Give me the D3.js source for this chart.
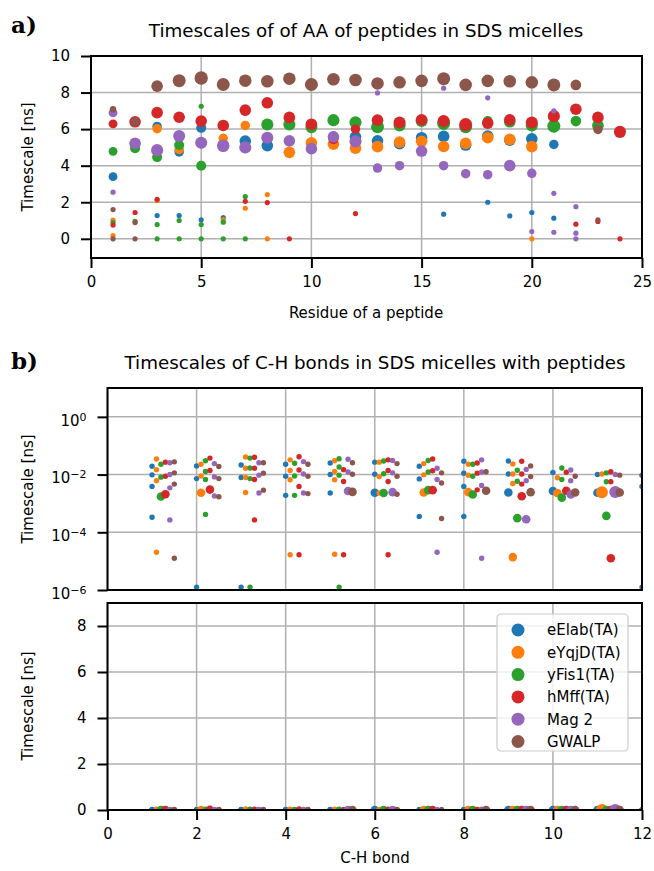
<!DOCTYPE html>
<html>
<head>
<meta charset="utf-8">
<script src="https://cdn.jsdelivr.net/npm/d3@7"></script>
<style>
  body { margin: 0; background: #fff; }
  text { font-family: "DejaVu Sans", sans-serif; fill: #000; }
</style>
</head>
<body>
<svg id="fig" width="654" height="871"></svg>
<script>
const peptides = ["eElab(TA)", "eYqjD(TA)", "yFis1(TA)", "hMff(TA)", "Mag 2", "GWALP"];
const colors = ["#1f77b4", "#ff7f0e", "#2ca02c", "#d62728", "#9467bd", "#8c564b"];

// panel a: [residue, timescale (ns), weight]
const aaElab = [[1,3.4,.35],[3,6.15,.4],[3,1.27,.12],[4,4.75,.4],[4,1.27,.12],[5,6.07,.45],[5,1.04,.12],[6,5.2,.4],[6,1.16,.12],[7,5.35,.6],[8,5.1,.6],[11,5.6,.45],[12,5.58,.6],[13,5.36,.6],[14,5.2,.6],[15,5.53,.6],[16,5.6,.6],[16,1.35,.12],[17,5.13,.6],[18,5.62,.6],[18,2.0,.12],[19,5.4,.6],[19,1.25,.12],[20,5.47,.6],[20,1.44,.12],[21,5.16,.4],[21,1.13,.12]];
const aaYqjD = [[1,1.02,.12],[1,0.18,.12],[3,6.02,.4],[3,2.1,.12],[4,4.89,.4],[6,5.5,.4],[6,1.05,.12],[7,6.2,.4],[7,1.67,.12],[8,2.42,.12],[8,0,.12],[9,4.73,.6],[10,5.25,.6],[11,5.18,.6],[12,4.96,.6],[13,5.04,.6],[14,5.29,.6],[15,5.33,.6],[16,5.05,.6],[17,5.22,.6],[18,5.53,.6],[19,5.44,.6],[20,5.04,.6],[20,0,.12]];
const aaFis1 = [[1,4.78,.35],[1,0.89,.12],[2,4.95,.45],[2,0.95,.12],[3,4.47,.45],[3,0.78,.12],[3,0,.12],[4,5.13,.45],[4,1.0,.12],[4,0,.12],[5,7.25,.12],[5,4.0,.45],[5,0.78,.12],[5,0,.12],[6,0.91,.12],[6,0,.12],[7,7.0,.4],[7,2.31,.12],[7,0,.12],[8,6.25,.65],[9,6.25,.65],[10,6.11,.65],[11,6.49,.65],[12,6.38,.65],[13,6.13,.75],[14,6.2,.65],[15,6.45,.65],[16,6.31,.75],[17,6.13,.75],[18,6.44,.45],[19,6.4,.6],[20,6.2,.65],[21,6.16,.75],[22,6.44,.5],[23,6.2,.6]];
const aaMff = [[1,6.29,.35],[1,0.75,.12],[2,6.4,.6],[2,1.44,.12],[3,6.9,.6],[3,2.16,.12],[4,6.65,.6],[5,6.44,.6],[6,6.2,.6],[7,7.04,.6],[7,2.05,.12],[8,7.44,.6],[8,1.98,.12],[9,6.64,.6],[9,0,.12],[10,6.27,.6],[11,5.45,.45],[12,6.0,.4],[12,1.38,.12],[13,6.49,.6],[14,6.36,.65],[15,6.51,.6],[16,6.44,.65],[17,6.25,.75],[18,6.33,.6],[19,6.51,.6],[20,6.36,.65],[21,6.71,.65],[22,7.09,.6],[22,0.8,.12],[23,6.64,.6],[23,0.95,.12],[24,5.85,.65],[24,0,.12]];
const aaMag2 = [[1,6.89,.35],[1,2.55,.12],[2,5.22,.6],[3,4.85,.65],[4,5.62,.65],[5,5.25,.65],[6,5.09,.7],[7,5.0,.65],[8,5.53,.65],[9,5.36,.6],[10,4.93,.6],[11,5.58,.6],[12,5.33,.65],[13,7.98,.12],[13,3.87,.4],[14,4.0,.4],[15,4.8,.6],[16,8.24,.12],[16,4.0,.4],[17,3.56,.4],[18,7.71,.12],[18,3.51,.4],[19,4.0,.6],[20,3.58,.4],[20,0.4,.12],[21,7.0,.12],[21,2.49,.12],[21,0.36,.12],[22,1.76,.12],[22,0.31,.12],[22,0,.12]];
const aaGWALP = [[1,7.09,.18],[1,1.6,.12],[1,0,.12],[2,6.4,.35],[2,0.89,.12],[2,0,.12],[3,8.35,.6],[4,8.65,.75],[5,8.8,.8],[6,8.44,.75],[7,8.65,.7],[8,8.62,.7],[9,8.76,.7],[10,8.44,.75],[11,8.73,.7],[12,8.69,.7],[13,8.5,.7],[14,8.56,.7],[15,8.64,.7],[16,8.76,.75],[17,8.42,.7],[18,8.64,.7],[19,8.62,.7],[20,8.56,.7],[21,8.42,.75],[22,8.42,.5],[23,5.98,.4],[23,1.04,.12]];

// panel b: [C-H bond, log10 timescale (ns), weight]
const chElab = [[1,-1.71,.13],[1,-2.01,.13],[1,-2.41,.13],[1,-3.48,.13],[2,-1.70,.13],[2,-2.14,.13],[2,-5.9,.13],[3,-1.67,.13],[3,-2.10,.13],[3,-5.9,.13],[4,-1.64,.13],[4,-2.06,.13],[4,-2.72,.13],[5,-1.60,.13],[5,-2.0,.13],[5,-2.64,.13],[6,-1.57,.13],[6,-1.99,.13],[6,-2.63,.33],[7,-1.71,.13],[7,-2.15,.13],[7,-3.45,.13],[8,-1.54,.13],[8,-1.95,.13],[8,-2.41,.13],[8,-3.45,.13],[9,-1.53,.13],[9,-1.98,.13],[9,-2.62,.33],[10,-1.93,.13],[10,-2.57,.33],[11,-2.0,.13],[11,-2.63,.33],[12,-2.02,.13],[12,-2.41,.13],[12,-5.9,.13]];
const chYqjD = [[1,-1.46,.13],[1,-1.83,.13],[1,-2.21,.13],[1,-4.69,.13],[2,-1.64,.13],[2,-2.05,.13],[2,-2.63,.33],[3,-1.39,.13],[3,-1.78,.13],[3,-2.1,.13],[3,-2.62,.13],[4,-1.49,.13],[4,-1.86,.13],[4,-2.18,.13],[4,-4.78,.13],[5,-1.52,.13],[5,-1.89,.13],[5,-2.18,.13],[5,-4.76,.13],[6,-1.57,.13],[6,-2.07,.13],[6,-2.64,.13],[7,-1.62,.13],[7,-2.01,.13],[7,-2.62,.33],[8,-1.64,.13],[8,-2.02,.13],[8,-2.61,.33],[9,-1.63,.13],[9,-1.98,.13],[9,-2.31,.13],[9,-4.86,.33],[10,-2.11,.13],[10,-2.64,.33],[11,-1.98,.13],[11,-2.61,.64]];
const chFis1 = [[1,-1.64,.13],[1,-2.09,.13],[1,-2.76,.33],[2,-1.52,.13],[2,-1.89,.13],[2,-2.17,.13],[2,-3.38,.13],[3,-1.43,.13],[3,-1.77,.13],[3,-2.14,.13],[3,-5.9,.13],[4,-1.61,.13],[4,-2.05,.13],[4,-2.72,.13],[5,-1.45,.13],[5,-1.74,.13],[5,-2.02,.13],[5,-5.9,.13],[6,-1.53,.13],[6,-1.97,.13],[6,-2.64,.33],[7,-1.51,.13],[7,-1.91,.13],[7,-2.54,.33],[8,-1.64,.13],[8,-2.06,.13],[8,-2.69,.33],[9,-1.85,.13],[9,-2.23,.13],[9,-3.51,.33],[10,-1.77,.13],[10,-2.17,.13],[10,-2.80,.33],[11,-1.94,.13],[11,-2.25,.13],[11,-3.43,.33]];
const chMff = [[1,-1.57,.13],[1,-2.06,.13],[1,-2.68,.33],[2,-1.43,.13],[2,-1.86,.13],[2,-2.52,.33],[3,-1.40,.13],[3,-1.78,.13],[3,-2.17,.13],[3,-3.57,.13],[4,-1.38,.13],[4,-1.84,.13],[4,-2.41,.13],[4,-4.78,.13],[5,-1.83,.13],[5,-2.24,.13],[5,-4.78,.13],[6,-1.49,.13],[6,-1.86,.13],[6,-2.24,.13],[6,-4.78,.13],[7,-1.46,.13],[7,-1.87,.13],[7,-2.54,.33],[8,-1.60,.13],[8,-1.95,.13],[8,-2.53,.13],[9,-1.54,.13],[9,-1.98,.13],[9,-2.33,.13],[9,-2.75,.33],[10,-1.92,.13],[10,-2.56,.33],[11,-1.90,.13],[11,-2.25,.13],[11,-4.9,.33]];
const chMag2 = [[1,-1.59,.13],[1,-2.0,.13],[1,-2.46,.13],[1,-3.57,.13],[2,-1.62,.13],[2,-2.08,.13],[2,-2.74,.13],[3,-1.59,.13],[3,-2.02,.13],[3,-2.64,.13],[4,-1.55,.13],[4,-1.98,.13],[4,-2.64,.13],[5,-1.47,.13],[5,-1.91,.13],[5,-2.57,.33],[6,-1.51,.13],[6,-1.94,.13],[6,-2.61,.33],[7,-1.78,.13],[7,-2.17,.13],[7,-4.69,.13],[8,-1.49,.13],[8,-1.91,.13],[8,-2.38,.13],[8,-4.9,.13],[9,-1.82,.13],[9,-2.21,.13],[9,-3.55,.33],[10,-1.84,.13],[10,-2.21,.13],[10,-2.69,.33],[11,-2.0,.13],[11,-2.60,.64]];
const chGWALP = [[1,-1.56,.13],[1,-1.94,.13],[1,-2.33,.13],[1,-4.9,.13],[2,-1.72,.13],[2,-2.14,.13],[2,-2.77,.13],[3,-1.59,.13],[3,-1.95,.13],[3,-2.54,.13],[4,-1.64,.13],[4,-2.06,.13],[4,-2.66,.13],[5,-1.59,.13],[5,-1.99,.13],[5,-2.60,.33],[6,-1.62,.13],[6,-2.06,.13],[6,-2.68,.13],[7,-1.94,.13],[7,-2.29,.13],[7,-3.52,.13],[8,-1.90,.13],[8,-2.56,.33],[9,-1.70,.13],[9,-2.07,.13],[9,-2.61,.33],[10,-2.06,.13],[10,-2.62,.33],[11,-2.02,.13],[11,-2.62,.33]];

const aaSeries = [aaElab, aaYqjD, aaFis1, aaMff, aaMag2, aaGWALP];
const chSeries = [chElab, chYqjD, chFis1, chMff, chMag2, chGWALP];
const dodge = [0, 0.1, 0.2, 0.3, 0.4, 0.5];   // x shift of each peptide in panel b

const svg = d3.select("#fig");
const rScale = d3.scaleSqrt().domain([0, 1]).range([0, 7.5]);
const gridColor = "#b0b0b0";

function panel(id, x, y, xTicks, yTicks, yFmt, showX) {
  const [x0, x1] = x.range(), [y0, y1] = y.range();
  const g = svg.append("g");
  svg.append("clipPath").attr("id", id)
    .append("rect").attr("x", x0).attr("y", y1).attr("width", x1 - x0).attr("height", y0 - y1);

  g.append("g").selectAll("line").data(xTicks).join("line")
    .attr("x1", d => x(d)).attr("x2", d => x(d)).attr("y1", y0).attr("y2", y1)
    .attr("stroke", gridColor).attr("stroke-width", 1.5);
  g.append("g").selectAll("line").data(yTicks).join("line")
    .attr("x1", x0).attr("x2", x1).attr("y1", d => y(d)).attr("y2", d => y(d))
    .attr("stroke", gridColor).attr("stroke-width", 1.5);

  const plot = g.append("g").attr("clip-path", `url(#${id})`);

  const xa = g.append("g").attr("transform", `translate(0,${y0})`)
    .call(d3.axisBottom(x).tickValues(xTicks).tickSize(10).tickPadding(8).tickFormat(d3.format("d")));
  const ya = g.append("g").attr("transform", `translate(${x0},0)`)
    .call(d3.axisLeft(y).tickValues(yTicks).tickSize(10).tickPadding(11).tickFormat(yFmt || d3.format("d")));
  [xa, ya].forEach(a => {
    a.select(".domain").remove();
    a.selectAll(".tick line").attr("stroke", "#000").attr("stroke-width", 2);
    a.selectAll("text").attr("font-size", 15).attr("font-family", "DejaVu Sans");
  });
  if (showX === false) xa.selectAll(".tick").remove();
  g.append("rect").attr("x", x0).attr("y", y1).attr("width", x1 - x0).attr("height", y0 - y1)
    .attr("fill", "none").attr("stroke", "#000").attr("stroke-width", 2);
  return {plot, ya};
}

function supLabels(axis) {
  axis.selectAll(".tick text").each(function(d) {
    const t = d3.select(this).text("");
    t.append("tspan").text("10");
    t.append("tspan").attr("dy", "-0.45em").attr("font-size", 11)
      .text(String(Math.round(Math.log10(d))).replace("-", "\u2212"));
  });
}

// ---------- panel a ----------
const xA = d3.scaleLinear().domain([0, 25]).range([91, 642]);
const yA = d3.scaleLinear().domain([-1.05, 10]).range([258, 56]);
const pa = panel("clipA", xA, yA, [0, 5, 10, 15, 20, 25], [0, 2, 4, 6, 8, 10]);
aaSeries.forEach((s, i) => {
  pa.plot.append("g").selectAll("circle").data(s).join("circle")
    .attr("cx", d => xA(d[0])).attr("cy", d => yA(d[1])).attr("r", d => rScale(d[2]))
    .attr("fill", colors[i]);
});
svg.append("text").attr("x", 366).attr("y", 36.5).attr("text-anchor", "middle").attr("font-size", 18.3)
  .text("Timescales of of AA of peptides in SDS micelles");
svg.append("text").attr("x", 366).attr("y", 318).attr("text-anchor", "middle").attr("font-size", 15)
  .text("Residue of a peptide");
svg.append("text").attr("transform", "translate(33,157) rotate(-90)").attr("text-anchor", "middle")
  .attr("font-size", 15).text("Timescale [ns]");
svg.append("text").attr("x", 11).attr("y", 33).attr("font-size", 23).attr("font-weight", "bold")
  .style("font-family", "'DejaVu Serif', serif").text("a)");

// ---------- panel b (log) ----------
const xB = d3.scaleLinear().domain([0, 12]).range([107.5, 642]);
const yB = d3.scaleLog().domain([1e-6, 10]).range([590, 388]);
const pb = panel("clipB", xB, yB, [0, 2, 4, 6, 8, 10, 12], [1e-6, 1e-4, 1e-2, 1], null, false);
supLabels(pb.ya);
pb.ya.selectAll(".tick text").attr("dy", "0.55em");
chSeries.forEach((s, i) => {
  pb.plot.append("g").selectAll("circle").data(s).join("circle")
    .attr("cx", d => xB(d[0] + dodge[i])).attr("cy", d => yB(10 ** d[1])).attr("r", d => rScale(d[2]))
    .attr("fill", colors[i]);
});
svg.append("text").attr("x", 375).attr("y", 369).attr("text-anchor", "middle").attr("font-size", 18.3)
  .text("Timescales of C-H bonds in SDS micelles with peptides");
svg.append("text").attr("transform", "translate(33,489) rotate(-90)").attr("text-anchor", "middle")
  .attr("font-size", 15).text("Timescale [ns]");
svg.append("text").attr("x", 11).attr("y", 369).attr("font-size", 23).attr("font-weight", "bold")
  .style("font-family", "'DejaVu Serif', serif").text("b)");

// ---------- panel b (linear) ----------
const yC = d3.scaleLinear().domain([0, 9]).range([810, 603]);
const pc = panel("clipC", xB, yC, [0, 2, 4, 6, 8, 10, 12], [0, 2, 4, 6, 8]);
chSeries.forEach((s, i) => {
  pc.plot.append("g").selectAll("circle").data(s).join("circle")
    .attr("cx", d => xB(d[0] + dodge[i])).attr("cy", d => yC(10 ** d[1])).attr("r", d => rScale(d[2]))
    .attr("fill", colors[i]);
});
svg.append("text").attr("x", 375).attr("y", 863).attr("text-anchor", "middle").attr("font-size", 15)
  .text("C-H bond");
svg.append("text").attr("transform", "translate(33,706) rotate(-90)").attr("text-anchor", "middle")
  .attr("font-size", 15).text("Timescale [ns]");

// legend
const lg = svg.append("g").attr("transform", "translate(497,614)");
lg.append("rect").attr("width", 131).attr("height", 137).attr("rx", 4)
  .attr("fill", "#fff").attr("fill-opacity", 0.8).attr("stroke", "#cccccc").attr("stroke-width", 1.2);
peptides.forEach((p, i) => {
  const row = lg.append("g").attr("transform", `translate(0,${16 + i * 22.3})`);
  row.append("circle").attr("cx", 21).attr("cy", 0).attr("r", 6.5).attr("fill", colors[i]);
  row.append("text").attr("x", 50).attr("y", 0).attr("dy", "0.36em").attr("font-size", 15).text(p);
});
</script>
</body>
</html>
